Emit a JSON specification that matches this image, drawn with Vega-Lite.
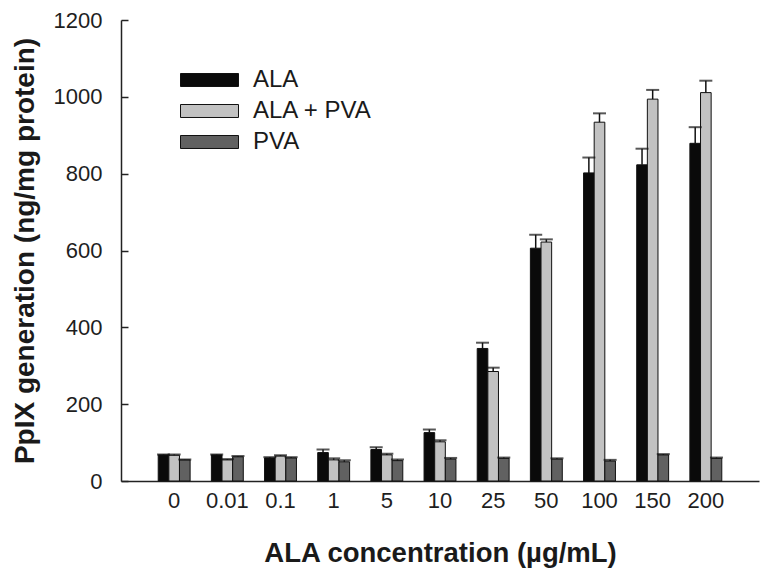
{
  "$schema": "https://vega.github.io/schema/vega-lite/v6.json",
  "autosize": {"type": "none"},
  "padding": {"left": 121, "top": 20, "right": 11, "bottom": 100},
  "width": 638,
  "height": 461,
  "background": "white",
  "config": {
    "view": {"stroke": null},
    "font": "Liberation Sans",
    "axis": {"labelColor": "#1e1e1e", "titleColor": "#1a1a1a", "domainColor": "#222", "tickColor": "#222", "grid": false}
  },
  "data": {
    "values": [
      {"conc": "0", "group": "ALA", "value": 68, "upper": 69},
      {"conc": "0", "group": "ALA + PVA", "value": 67, "upper": 69},
      {"conc": "0", "group": "PVA", "value": 55, "upper": 56},
      {"conc": "0.01", "group": "ALA", "value": 68, "upper": 69},
      {"conc": "0.01", "group": "ALA + PVA", "value": 55, "upper": 57},
      {"conc": "0.01", "group": "PVA", "value": 63, "upper": 65},
      {"conc": "0.1", "group": "ALA", "value": 60, "upper": 62},
      {"conc": "0.1", "group": "ALA + PVA", "value": 65, "upper": 67},
      {"conc": "0.1", "group": "PVA", "value": 60, "upper": 62},
      {"conc": "1", "group": "ALA", "value": 74, "upper": 82},
      {"conc": "1", "group": "ALA + PVA", "value": 55, "upper": 59},
      {"conc": "1", "group": "PVA", "value": 50, "upper": 54},
      {"conc": "5", "group": "ALA", "value": 82, "upper": 88},
      {"conc": "5", "group": "ALA + PVA", "value": 68, "upper": 71},
      {"conc": "5", "group": "PVA", "value": 53, "upper": 56},
      {"conc": "10", "group": "ALA", "value": 126, "upper": 134},
      {"conc": "10", "group": "ALA + PVA", "value": 102, "upper": 106},
      {"conc": "10", "group": "PVA", "value": 57, "upper": 60},
      {"conc": "25", "group": "ALA", "value": 345, "upper": 360},
      {"conc": "25", "group": "ALA + PVA", "value": 285, "upper": 295},
      {"conc": "25", "group": "PVA", "value": 59, "upper": 61},
      {"conc": "50", "group": "ALA", "value": 606, "upper": 641},
      {"conc": "50", "group": "ALA + PVA", "value": 622, "upper": 629},
      {"conc": "50", "group": "PVA", "value": 57, "upper": 59},
      {"conc": "100", "group": "ALA", "value": 802, "upper": 842},
      {"conc": "100", "group": "ALA + PVA", "value": 934, "upper": 957},
      {"conc": "100", "group": "PVA", "value": 52, "upper": 55},
      {"conc": "150", "group": "ALA", "value": 823, "upper": 865},
      {"conc": "150", "group": "ALA + PVA", "value": 994, "upper": 1018},
      {"conc": "150", "group": "PVA", "value": 68, "upper": 70},
      {"conc": "200", "group": "ALA", "value": 879, "upper": 921},
      {"conc": "200", "group": "ALA + PVA", "value": 1011, "upper": 1042},
      {"conc": "200", "group": "PVA", "value": 59, "upper": 61}
    ]
  },
  "encoding": {
    "x": {
      "field": "conc", "type": "nominal",
      "sort": ["0", "0.01", "0.1", "1", "5", "10", "25", "50", "100", "150", "200"],
      "scale": {"paddingInner": 0.4, "paddingOuter": 0.7},
      "axis": {"title": "ALA concentration (µg/mL)", "labelAngle": 0, "ticks": false, "labelFontSize": 22, "labelPadding": 9, "titleFontSize": 27.5, "titleFontWeight": "bold", "titlePadding": 28, "domainWidth": 1.5}
    },
    "xOffset": {
      "field": "group", "type": "nominal",
      "sort": ["ALA", "ALA + PVA", "PVA"],
      "scale": {"paddingInner": 0, "paddingOuter": 0}
    }
  },
  "layer": [
    {
      "mark": {"type": "bar", "stroke": "#111", "strokeWidth": 1},
      "encoding": {
        "y": {
          "field": "value", "type": "quantitative",
          "scale": {"domain": [0, 1200], "nice": false},
          "axis": {"title": "PpIX generation (ng/mg protein)", "values": [0, 200, 400, 600, 800, 1000, 1200], "format": "d", "tickSize": -7, "labelFontSize": 22, "labelPadding": 26, "titleFontSize": 28, "titleFontWeight": "bold", "titlePadding": 14, "domainWidth": 1.5, "tickWidth": 1.5}
        },
        "fill": {
          "field": "group", "type": "nominal",
          "sort": ["ALA", "ALA + PVA", "PVA"],
          "scale": {"domain": ["ALA", "ALA + PVA", "PVA"], "range": ["#0a0a0a", "#c2c2c2", "#616161"]},
          "legend": {
            "title": null, "orient": "none", "legendX": 59, "legendY": 44.5, "padding": 0,
            "symbolType": "M-1,-0.224H1V0.224H-1Z", "symbolSize": 3364,
            "symbolStrokeColor": "#111", "symbolStrokeWidth": 1, "symbolOpacity": 1,
            "clipHeight": 31, "rowPadding": 0, "labelOffset": 14,
            "labelFontSize": 24, "labelColor": "#1a1a1a", "labelFont": "Liberation Sans"
          }
        }
      }
    },
    {
      "mark": {"type": "rule", "color": "#111", "strokeWidth": 1.5},
      "encoding": {
        "y": {"field": "value", "type": "quantitative"},
        "y2": {"field": "upper"}
      }
    },
    {
      "mark": {"type": "tick", "color": "#111", "thickness": 2, "size": 13},
      "encoding": {
        "y": {"field": "upper", "type": "quantitative"}
      }
    }
  ]
}
